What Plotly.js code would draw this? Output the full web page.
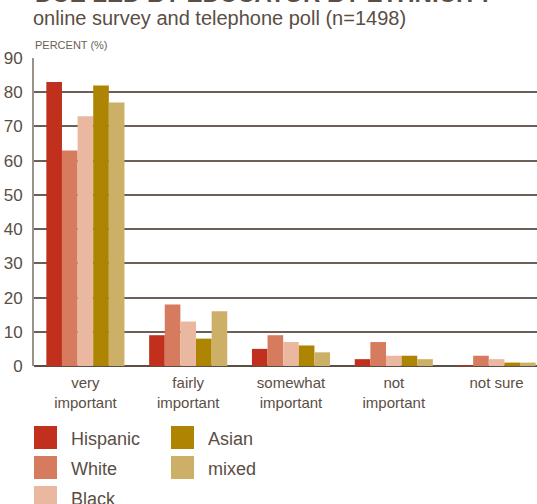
<!DOCTYPE html>
<html><head><meta charset="utf-8">
<script src="https://cdn.plot.ly/plotly-3.0.1.min.js"></script>
<style>html,body{margin:0;padding:0;overflow:hidden;background:#fff}</style>
</head><body><div id="chart" style="width:537px;height:504px"></div>
<script>
const categories = ["very<br>important", "fairly<br>important", "somewhat<br>important", "not<br>important", "not sure"];
const groups = ["Hispanic", "White", "Black", "Asian", "mixed"];
const hispanic = [83, 9, 5, 2, 0.3];
const white = [63, 18, 9, 7, 3];
const black = [73, 13, 7, 3, 2];
const asian = [82, 8, 6, 3, 1];
const mixed = [77, 16, 4, 2, 1];
const colors = ["#c0301c", "#d77b5e", "#eab8a0", "#ad8502", "#cdb067"];
const yTicks = [0, 10, 20, 30, 40, 50, 60, 70, 80, 90];

const series = [hispanic, white, black, asian, mixed];
const txt = "#5a4e45";
const traces = series.map((vals, i) => ({
  type: "bar", name: groups[i], x: categories, y: vals,
  marker: {color: colors[i], line: {width: 0}}, showlegend: false, hoverinfo: "x+y+name"
}));

// manual legend (two columns)
const legPos = [[0, 0], [0, 1], [0, 2], [1, 0], [1, 1]];
const colX = [34, 171];
const rowY = [437.5, 467.5, 497.5];
const px = v => (v - 34) / 503;
const py = v => (366 - v) / 308;
const shapes = [], annotations = [];
groups.forEach((g, i) => {
  const [c, r] = legPos[i];
  const x0 = colX[c], yc = rowY[r];
  shapes.push({type: "rect", xref: "paper", yref: "paper", x0: px(x0), x1: px(x0 + 23),
    y0: py(yc + 11.5), y1: py(yc - 11.5), fillcolor: colors[i], line: {width: 0}, layer: "above"});
  annotations.push({xref: "paper", yref: "paper", x: px(x0 + 35), y: py(yc + 1), xanchor: "left", yanchor: "middle",
    text: g, showarrow: false, font: {family: "Liberation Sans, Arial, sans-serif", size: 18, color: txt}});
});
annotations.push({xref: "paper", yref: "paper", x: px(33), y: py(-6), xanchor: "left", yanchor: "middle",
  text: "<b>DUE LED BY EDUCATOR BY ETHNICITY</b>", showarrow: false,
  font: {family: "Liberation Sans, Arial, sans-serif", size: 24, color: txt}});
annotations.push({xref: "paper", yref: "paper", x: px(31), y: py(18), xanchor: "left", yanchor: "middle",
  text: "online survey and telephone poll (n=1498)", showarrow: false,
  font: {family: "Liberation Sans, Arial, sans-serif", size: 20, color: txt}});
annotations.push({xref: "paper", yref: "paper", x: px(33), y: py(45), xanchor: "left", yanchor: "middle",
  text: "PERCENT (%)", showarrow: false,
  font: {family: "Liberation Sans, Arial, sans-serif", size: 11, color: "#6b5f55"}});

const layout = {
  width: 537, height: 504,
  margin: {l: 34, r: 0, t: 58, b: 138, pad: 0},
  paper_bgcolor: "#fff", plot_bgcolor: "#fff",
  barmode: "group", bargap: 0.24, bargroupgap: 0,
  font: {family: "Liberation Sans, Arial, sans-serif", color: txt},
  xaxis: {type: "category", range: [-0.5, 4.393], showgrid: false, ticks: "", showline: false,
    tickfont: {size: 15, color: txt}, ticklabelstandoff: 6, fixedrange: true},
  yaxis: {range: [0, 90], tickvals: yTicks, ticktext: yTicks.map(String), showgrid: true,
    gridcolor: "#6b5f57", gridwidth: 2, zeroline: true, zerolinecolor: "#5a4e45", zerolinewidth: 2,
    showline: true, linecolor: "#9a918a", linewidth: 2, ticks: "",
    tickfont: {size: 17, color: txt}, ticklabelstandoff: 6, fixedrange: true},
  shapes: shapes, annotations: annotations, showlegend: false
};
Plotly.newPlot("chart", traces, layout, {displayModeBar: false, staticPlot: true});
</script></body></html>
